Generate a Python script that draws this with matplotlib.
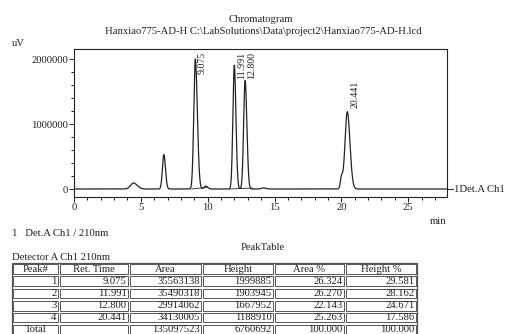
import numpy as np
import matplotlib
matplotlib.use("Agg")
import matplotlib.pyplot as plt
from matplotlib.ticker import MultipleLocator, FixedLocator

plt.rcParams['font.family'] = ['Liberation Serif', 'DejaVu Serif']

# ---- data ----
# trace components (peak centre min, height uV, left/right widths)
comp_center = [4.45, 6.72, 9.075, 9.85, 11.991, 12.800, 14.15, 20.00, 20.441]
comp_height = [92000, 530000, 1999885, 45000, 1903945, 1667952, 18000, 170000, 1188910]
comp_sig_l = [0.22, 0.105, 0.115, 0.12, 0.105, 0.11, 0.15, 0.08, 0.17]
comp_sig_r = [0.28, 0.120, 0.150, 0.15, 0.120, 0.13, 0.20, 0.10, 0.20]

# integration baselines (start time, start level, end time, end level)
bl_t0 = [8.80, 11.65]
bl_y0 = [0, 0]
bl_t1 = [9.95, 13.35]
bl_y1 = [25000, 15000]

# peak table
peak_no = [1, 2, 3, 4]
ret_time = [9.075, 11.991, 12.800, 20.441]
area = [35563138, 35490318, 29914062, 34130005]
height = [1999885, 1903945, 1667952, 1188910]
area_pct = [26.324, 26.270, 22.143, 25.263]
height_pct = [29.581, 28.162, 24.671, 17.586]
total_area = 135097523
total_height = 6760692

x_ticks = [0, 5, 10, 15, 20, 25]
y_ticks = [0, 1000000, 2000000]

# ---- figure ----
W, H = 508, 334
fig = plt.figure(figsize=(W / 100, H / 100), dpi=100)
fig.patch.set_facecolor('white')
col = '#222222'
fs = 7.7

def fx(x):
    return x / W

def fy(y):
    return 1 - y / H

ax_l, ax_r, ax_t, ax_b = 74, 447, 49, 197
ax = fig.add_axes([fx(ax_l), fy(ax_b), (ax_r - ax_l) / W, (ax_b - ax_t) / H])
xmax = 27.9
ymin, ymax = -123000, 2154000
ax.set_xlim(0, xmax)
ax.set_ylim(ymin, ymax)

t = np.linspace(0, xmax, 8000)
sig = np.zeros_like(t)
for c, h, sl, sr in zip(comp_center, comp_height, comp_sig_l, comp_sig_r):
    s = np.where(t < c, sl, sr)
    sig += h * np.exp(-0.5 * ((t - c) / s) ** 2)
ax.plot(t, sig, color=col, lw=0.9)
for a0, b0, a1, b1 in zip(bl_t0, bl_y0, bl_t1, bl_y1):
    ax.plot([a0, a1], [b0, b1], color=col, lw=0.6)

for sp in ax.spines.values():
    sp.set_color(col)
    sp.set_linewidth(0.8)

ax.xaxis.set_major_locator(FixedLocator(x_ticks))
ax.xaxis.set_minor_locator(MultipleLocator(1))
ax.yaxis.set_major_locator(FixedLocator(y_ticks))
ax.yaxis.set_minor_locator(MultipleLocator(200000))
ax.set_xticklabels([str(v) for v in x_ticks])
ax.set_yticklabels([str(v) for v in y_ticks])
ax.tick_params(axis='both', which='major', direction='out', length=3.5, width=0.7,
               color=col, labelcolor=col, labelsize=fs, pad=1)
ax.tick_params(axis='both', which='minor', direction='out', length=2.2, width=0.7, color=col)

# peak labels
px_per_y = (ax_b - ax_t) / (ymax - ymin)
for rt, h in zip(ret_time, height):
    lab = f"{rt:.3f}"
    top_y = ymax - 3 / px_per_y
    y_bot = h + 4 / px_per_y
    if y_bot + 26 / px_per_y > top_y:
        ax.text(rt + 0.52, top_y, lab, rotation=90, ha='center', va='top',
                fontsize=fs - 0.6, color=col)
    else:
        ax.text(rt + 0.55, y_bot, lab, rotation=90, ha='center', va='bottom',
                fontsize=fs - 0.6, color=col)

# detector label at right edge of baseline
ax.plot([xmax, xmax + 6 / 13.37], [0, 0], color=col, lw=0.7, clip_on=False)
ax.text(xmax + 7.5 / 13.37, 0, "1Det.A Ch1", ha='left', va='center', fontsize=fs,
        color=col, clip_on=False)

# texts outside
fig.text(fx(261), fy(20), "Chromatogram", ha='center', va='center', fontsize=fs, color=col)
fig.text(fx(263), fy(32), r"Hanxiao775-AD-H C:\LabSolutions\Data\project2\Hanxiao775-AD-H.lcd",
         ha='center', va='center', fontsize=fs, color=col)
fig.text(fx(12), fy(44), "uV", ha='left', va='center', fontsize=fs, color=col)
fig.text(fx(438), fy(222), "min", ha='center', va='center', fontsize=fs, color=col)
fig.text(fx(12), fy(233), "1   Det.A Ch1 / 210nm", ha='left', va='center', fontsize=fs, color=col)
fig.text(fx(263), fy(247), "PeakTable", ha='center', va='center', fontsize=fs, color=col)
fig.text(fx(12), fy(257), "Detector A Ch1 210nm", ha='left', va='center', fontsize=fs, color=col)

# ---- table ----
tax = fig.add_axes([0, 0, 1, 1])
tax.set_xlim(0, W)
tax.set_ylim(H, 0)
tax.axis('off')

col_x = [12, 59, 129, 202, 274, 345, 417]
row_y = [263, 275, 287.5, 299.5, 312, 323.5, 335]
headers = ["Peak#", "Ret. Time", "Area", "Height", "Area %", "Height %"]

rows = []
for i in range(len(peak_no)):
    rows.append([str(peak_no[i]), f"{ret_time[i]:.3f}", str(area[i]), str(height[i]),
                 f"{area_pct[i]:.3f}", f"{height_pct[i]:.3f}"])
rows.append(["Total", "", str(total_area), str(total_height), "100.000", "100.000"])

# outer border
tax.add_patch(plt.Rectangle((col_x[0], row_y[0]), col_x[-1] - col_x[0], row_y[-1] - row_y[0],
                            fill=False, ec='#555555', lw=0.9, clip_on=False))
for r in range(len(row_y) - 1):
    for c in range(len(col_x) - 1):
        x0, x1 = col_x[c] + 1.3, col_x[c + 1] - 1.3
        y0, y1 = row_y[r] + 1.3, row_y[r + 1] - 1.3
        tax.add_patch(plt.Rectangle((x0, y0), x1 - x0, y1 - y0, fill=False,
                                    ec='#555555', lw=0.7, clip_on=False))

for c, h in enumerate(headers):
    tax.text((col_x[c] + col_x[c + 1]) / 2, (row_y[0] + row_y[1]) / 2, h,
             ha='center', va='center', fontsize=fs, color=col)
for r, row in enumerate(rows):
    yc = (row_y[r + 1] + row_y[r + 2]) / 2
    for c, v in enumerate(row):
        if r == len(rows) - 1 and c == 0:
            tax.text((col_x[0] + col_x[1]) / 2, yc, v, ha='center', va='center',
                     fontsize=fs, color=col)
        else:
            tax.text(col_x[c + 1] - 2.5, yc, v, ha='right', va='center',
                     fontsize=fs, color=col)

fig.savefig("out.png", dpi=100, facecolor='white')
